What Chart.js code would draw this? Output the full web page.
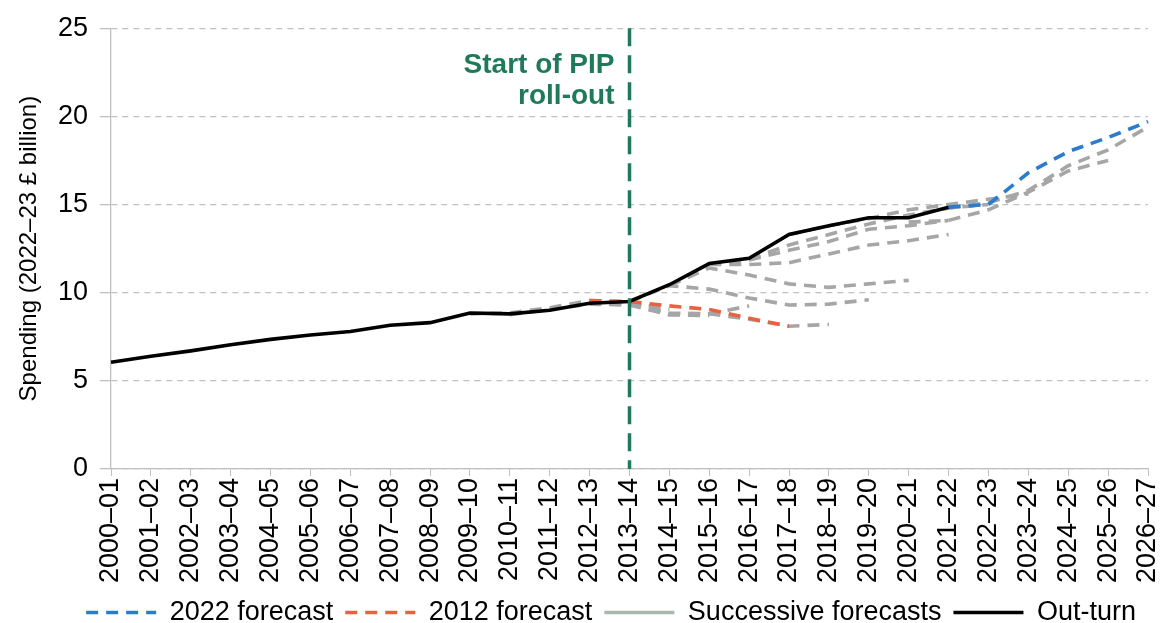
<!DOCTYPE html>
<html>
<head>
<meta charset="utf-8">
<script src="https://cdn.jsdelivr.net/npm/chart.js@4/dist/chart.umd.min.js"></script>
<style>
  html, body { margin: 0; padding: 0; background: #ffffff; }
  #wrap { width: 1162px; height: 623px; position: relative; }
</style>
</head>
<body>
<div id="wrap"><canvas id="c" width="1162" height="623"></canvas></div>
<script>
// ---- Data ----
const years = ['2000–01','2001–02','2002–03','2003–04','2004–05','2005–06','2006–07','2007–08','2008–09','2009–10',
  '2010–11','2011–12','2012–13','2013–14','2014–15','2015–16','2016–17','2017–18','2018–19','2019–20',
  '2020–21','2021–22','2022–23','2023–24','2024–25','2025–26','2026–27'];

const outturn = [6.05, 6.4, 6.7, 7.05, 7.35, 7.6, 7.8, 8.15, 8.3, 8.85, 8.8, 9.0, 9.4, 9.5, 10.45, 11.65, 11.95, 13.3, 13.8, 14.25, 14.25, 14.85];

const forecast2022Start = '2021–22';
const forecast2022 = [14.85, 15.0, 16.8, 18.0, 18.8, 19.7];

const forecast2012Start = '2012–13';
const forecast2012 = [9.55, 9.5, 9.25, 9.05, 8.55, 8.1];

// successive forecasts (grey), each with its first year
const succA_start = '2009–10'; const succA = [8.8, 8.85, 9.15, 9.55, 9.45, 9.05];
const succB_start = '2010–11'; const succB = [8.75, 9.05, 9.35, 9.3, 8.75, 8.7];
const succC_start = '2012–13'; const succC = [9.4, 9.4, 8.85, 8.8, 8.5, 8.1, 8.2];
const succD_start = '2013–14'; const succD = [9.4, 8.75, 8.8, 9.25];
const succE_start = '2013–14'; const succE = [9.5, 10.4, 10.2, 9.7, 9.3, 9.35, 9.6];
const succF_start = '2014–15'; const succF = [10.4, 11.4, 11.0, 10.5, 10.3, 10.5, 10.7];
const succG_start = '2015–16'; const succG = [11.6, 11.6, 11.7, 12.2, 12.7, 12.95, 13.3];
const succH_start = '2015–16'; const succH = [11.6, 11.85, 12.4, 12.9, 13.6, 13.8, 14.1];
const succI_start = '2016–17'; const succI = [11.9, 12.7, 13.3, 13.9, 14.4, 14.8, 15.0];
const succJ_start = '2017–18'; const succJ = [13.3, 13.8, 14.2, 14.7, 15.0, 15.3, 15.6];
const succK_start = '2020–21'; const succK = [14.0, 14.1, 14.7, 15.7, 16.9, 17.5];
const succL_start = '2021–22'; const succL = [14.8, 15.1, 15.8, 17.2, 18.1, 19.4];

const yTicks = [0, 5, 10, 15, 20, 25];
const pipStart = '2013–14';
const pipLabel = ['Start of PIP', 'roll-out'];

// ---- Build helpers ----
function place(startLabel, vals) {
  const arr = new Array(years.length).fill(null);
  const s = years.indexOf(startLabel);
  vals.forEach((v, i) => { arr[s + i] = v; });
  return arr;
}

const GREY = '#a6a6a6';
const BLUE = '#2b7bce';
const RED = '#ea6040';
const GREEN = '#1f7a5a';
const DASH = [12, 8];

const greySets = [
  [succA_start, succA], [succB_start, succB], [succC_start, succC], [succD_start, succD],
  [succE_start, succE], [succF_start, succF], [succG_start, succG], [succH_start, succH],
  [succI_start, succI], [succJ_start, succJ], [succK_start, succK], [succL_start, succL]
];

const datasets = [
  { label: 'Out-turn', data: place(years[0], outturn), borderColor: '#000000', borderWidth: 3.6, pointRadius: 0, tension: 0, fill: false },
  { label: '2012 forecast', data: place(forecast2012Start, forecast2012), borderColor: RED, borderWidth: 3.6, borderDash: DASH, pointRadius: 0, fill: false },
  { label: '2022 forecast', data: place(forecast2022Start, forecast2022), borderColor: BLUE, borderWidth: 3.6, borderDash: DASH, pointRadius: 0, fill: false }
];
greySets.forEach((g) => {
  datasets.push({ label: 'Successive forecasts', data: place(g[0], g[1]), borderColor: GREY, borderWidth: 3.6, borderDash: DASH, pointRadius: 0, fill: false });
});

const pipPlugin = {
  id: 'pip',
  afterDatasetsDraw(chart) {
    const ctx = chart.ctx;
    const x = chart.scales.x.getPixelForValue(years.indexOf(pipStart));
    const area = chart.chartArea;
    ctx.save();
    ctx.strokeStyle = GREEN;
    ctx.lineWidth = 3.5;
    ctx.setLineDash([18, 9]);
    ctx.beginPath();
    ctx.moveTo(x, area.top);
    ctx.lineTo(x, area.bottom);
    ctx.stroke();
    ctx.setLineDash([]);
    ctx.fillStyle = GREEN;
    ctx.font = 'bold 28px "Liberation Sans", Arial, sans-serif';
    ctx.textAlign = 'right';
    ctx.textBaseline = 'alphabetic';
    ctx.fillText(pipLabel[0], x - 15, 73);
    ctx.fillText(pipLabel[1], x - 15, 104);
    ctx.restore();
  }
};

Chart.defaults.font.family = '"Liberation Sans", Arial, sans-serif';
Chart.defaults.color = '#000000';

new Chart(document.getElementById('c'), {
  type: 'line',
  data: { labels: years, datasets: datasets },
  options: {
    responsive: false,
    animation: false,
    devicePixelRatio: 1,
    layout: { padding: { top: 27, right: 14, left: 0, bottom: -13 } },
    plugins: {
      tooltip: { enabled: false },
      legend: {
        position: 'bottom',
        align: 'end',
        labels: {
          usePointStyle: true,
          pointStyleWidth: 70,
          boxHeight: 20,
          padding: 12,
          font: { size: 27 },
          color: '#000000',
          generateLabels: function () {
            return [
              { text: '2022 forecast', strokeStyle: BLUE, fillStyle: BLUE, lineWidth: 3.5, lineDash: [12, 8], pointStyle: 'line', hidden: false, datasetIndex: 2 },
              { text: '2012 forecast', strokeStyle: RED, fillStyle: RED, lineWidth: 3.5, lineDash: [12, 8], pointStyle: 'line', hidden: false, datasetIndex: 1 },
              { text: 'Successive forecasts', strokeStyle: '#a9b8aa', fillStyle: '#a9b8aa', lineWidth: 3.5, lineDash: [], pointStyle: 'line', hidden: false, datasetIndex: 3 },
              { text: 'Out-turn', strokeStyle: '#000000', fillStyle: '#000000', lineWidth: 3.5, lineDash: [], pointStyle: 'line', hidden: false, datasetIndex: 0 }
            ];
          }
        }
      }
    },
    scales: {
      x: {
        type: 'category',
        offset: false,
        afterFit: (s) => { s.height = 118; s.paddingRight = 0; s.paddingLeft = 0; },
        grid: { drawOnChartArea: false, drawTicks: true, tickLength: 7, color: '#bfbfbf' },
        border: { display: true, color: '#bfbfbf', width: 1.3 },
        ticks: { autoSkip: false, maxRotation: 90, minRotation: 90, font: { size: 27 }, color: '#000000', padding: 2 }
      },
      y: {
        min: 0, max: 25,
        afterFit: (s) => { s.width = 111; },
        afterBuildTicks: (s) => { s.ticks = yTicks.map(v => ({ value: v })); },
        grid: { color: '#c0c0c0', lineWidth: 1.3, tickLength: 11, drawTicks: true },
        border: { display: true, color: '#bfbfbf', width: 1.3, dash: [6, 5] },
        ticks: { font: { size: 27 }, color: '#000000', padding: 12 },
        title: { display: true, text: 'Spending (2022–23 £ billion)', font: { size: 24 }, color: '#000000', padding: { top: 15, bottom: 4 } }
      }
    }
  },
  plugins: [pipPlugin]
});
</script>
</body>
</html>
